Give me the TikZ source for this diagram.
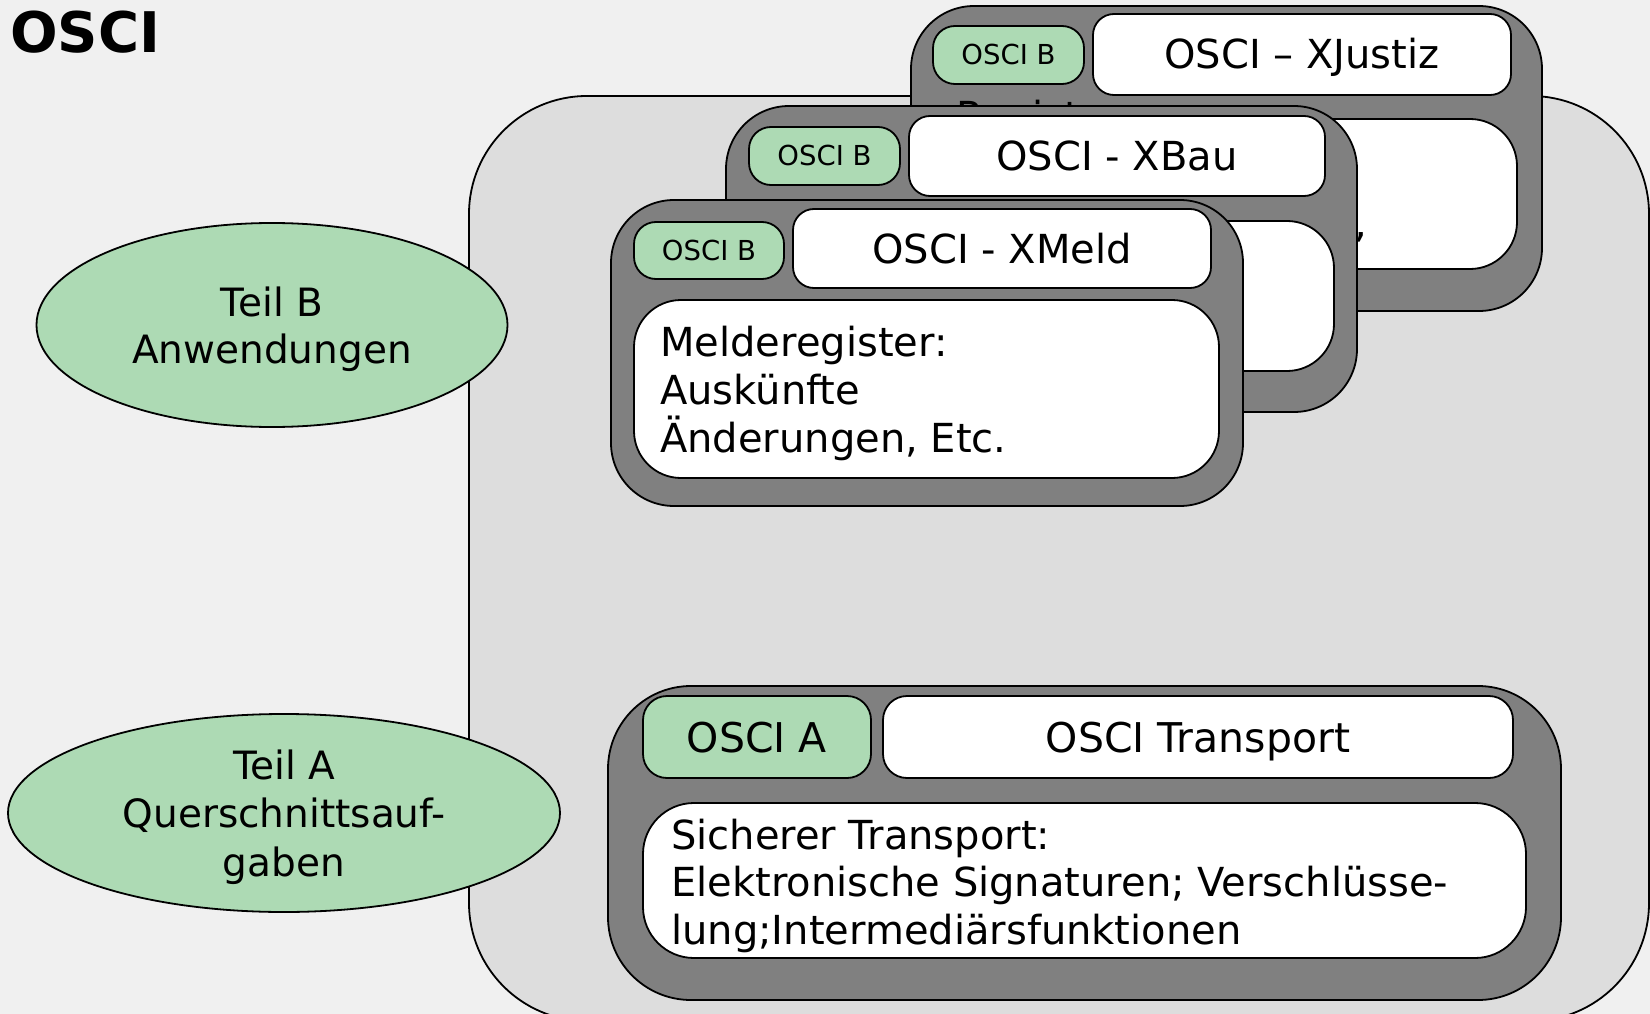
\documentclass[tikz,border=0pt]{standalone}
\usepackage{fontspec}
\setmainfont{DejaVu Sans}
\usetikzlibrary{shapes.geometric}
\definecolor{bgc}{HTML}{F0F0F0}
\definecolor{boxc}{HTML}{DDDDDD}
\definecolor{cardc}{HTML}{808080}
\definecolor{greenc}{HTML}{ADDAB4}
\tikzset{
  sz/.style 2 args={minimum width=#1pt, minimum height=#2pt},
  pane/.style={draw=black, line width=1.8pt, rectangle, inner sep=0pt, outer sep=0pt, anchor=north west},
  card/.style={pane, fill=cardc, rounded corners=63pt},
  tagbox/.style={pane, fill=greenc, rounded corners=22pt, text height=20pt, text depth=0pt, font=\fontsize{27.5}{33}\selectfont},
  titlebox/.style={pane, fill=white, rounded corners=21pt, text height=29pt, text depth=0pt, font=\fontsize{40}{48}\selectfont},
  bodybox/.style={pane, fill=white, rounded corners=47pt},
  bodytext/.style={anchor=base west, inner sep=0pt, align=left, font=\fontsize{40}{48}\selectfont},
  part/.style={ellipse, draw=black, line width=1.8pt, fill=greenc, inner sep=0pt, align=center, text depth=0pt, font=\fontsize{39}{47}\selectfont}
}
\begin{document}
\begin{tikzpicture}[x=1pt, y=-1pt]
\useasboundingbox (0,0) rectangle (1650,1014);
\fill[bgc] (0,0) rectangle (1650,1014);
% title
\node[anchor=base west, inner sep=0pt, font=\bfseries\fontsize{56}{60}\selectfont] (title) at (10,53) {OSCI};
% large light box
\node[pane, fill=boxc, rounded corners=118pt, sz={1180}{925}] (frame) at (469,96) {};
% ellipses
\node[part, minimum width=471pt, minimum height=204pt] (teilb) at (272,325) {Teil B\\Anwendungen};
\node[part, minimum width=552pt, minimum height=198pt, font=\fontsize{39}{48.5}\selectfont] (teila) at (284,813) {Teil A\\Querschnittsauf-\\gaben};
% XJustiz card
\node[card, sz={631}{305}] (jcard) at (911,6) {};
\node[bodytext] (jhidden) at (956,131) {Register:};
\node[bodybox, sz={584}{150}] (jbody) at (933,119) {};
\node[bodytext] (jcomma) at (1354,237) {,};
\node[tagbox, sz={151}{58}] (jtag) at (933,26) {OSCI B};
\node[titlebox, sz={418}{81}] (jtitle) at (1093,14) {OSCI – XJustiz};
% XBau card
\node[card, sz={631}{306}] (bcard) at (726,106) {};
\node[bodybox, sz={585}{150}] (bbody) at (749,221) {};
\node[tagbox, sz={151}{58}] (btag) at (749,127) {OSCI B};
\node[titlebox, sz={416}{80}] (btitle) at (909,116) {OSCI - XBau};
% XMeld card
\node[card, sz={632}{306}] (mcard) at (611,200) {};
\node[tagbox, sz={150}{57}] (mtag) at (634,222) {OSCI B};
\node[titlebox, sz={418}{79}] (mtitle) at (793,209) {OSCI - XMeld};
\node[bodybox, sz={585}{178}] (mbody) at (634,300) {};
\node[bodytext] (mtext) at (660,452) {Melderegister:\\Auskünfte\\Änderungen, Etc.};
% OSCI A card
\node[card, rounded corners=83pt, sz={953}{314}] (acard) at (608,686) {};
\node[tagbox, rounded corners=24pt, sz={228}{82}, text height=30pt, font=\fontsize{41}{48}\selectfont] (atag) at (643,696) {OSCI A};
\node[titlebox, rounded corners=24pt, sz={630}{82}, text height=30pt, font=\fontsize{41}{48}\selectfont] (atitle) at (883,696) {OSCI Transport};
\node[bodybox, rounded corners=51pt, sz={883}{155}] (abody) at (643,803) {};
\node[bodytext, font=\fontsize{40}{47.5}\selectfont] (atext) at (671,944) {Sicherer Transport:\\Elektronische Signaturen; Verschlüsse-\\lung;Intermediärsfunktionen};
\end{tikzpicture}
\end{document}
